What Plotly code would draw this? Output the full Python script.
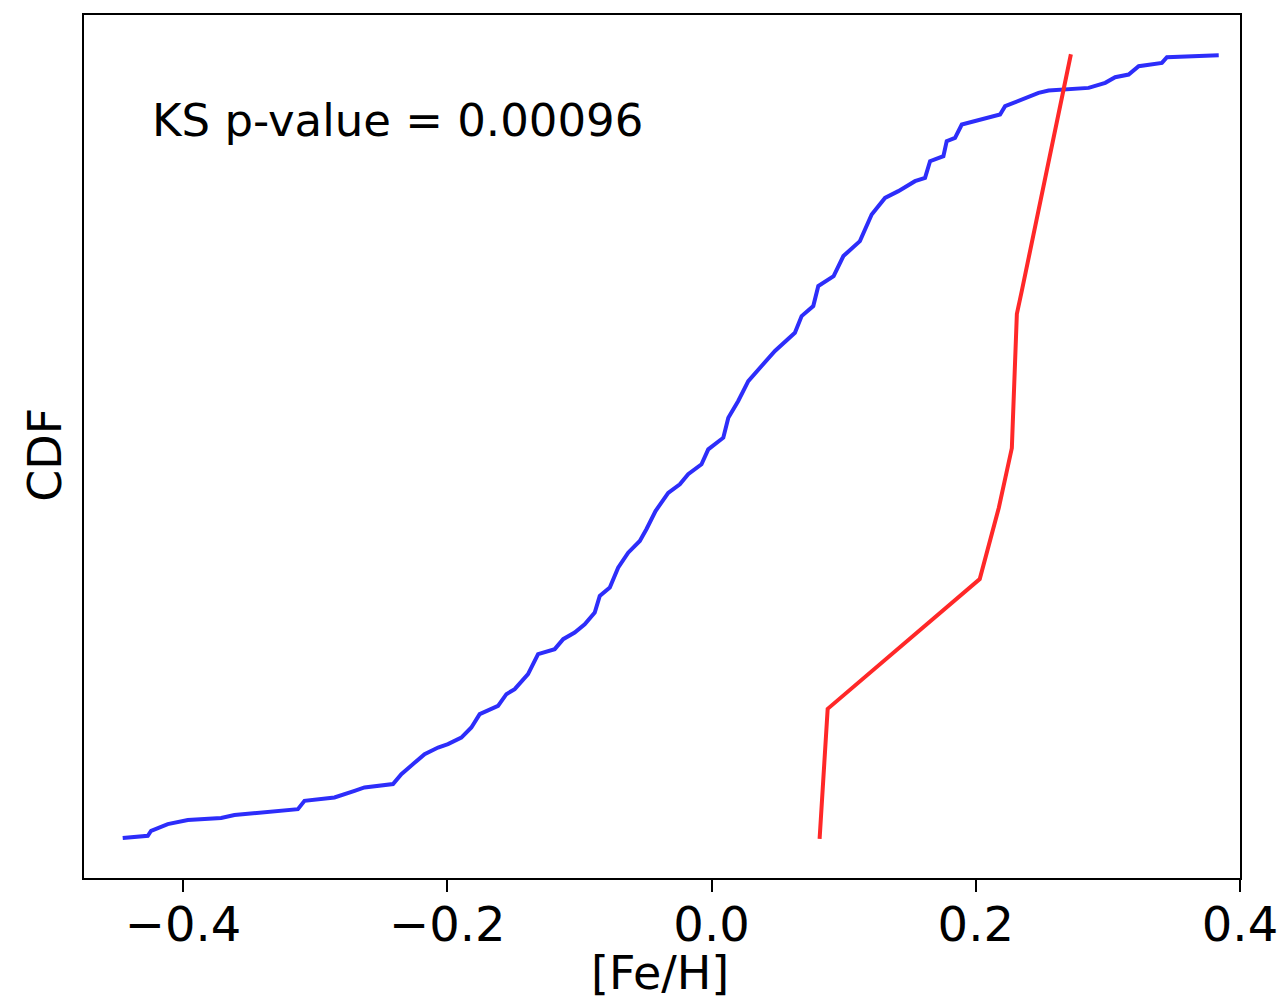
import plotly.graph_objects as go

# Blue sample CDF (sorted [Fe/H] vs cumulative fraction)
blue_feh = [-0.4457, -0.4267, -0.4242, -0.4116, -0.3964, -0.3712, -0.3611, -0.3358, -0.3131, -0.3081,
            -0.2854, -0.2702, -0.2627, -0.2411, -0.2348, -0.2248, -0.2172, -0.2070, -0.1995, -0.1894,
            -0.1818, -0.1755, -0.1692, -0.1616, -0.1553, -0.1490, -0.1389, -0.1313, -0.1187, -0.1123,
            -0.1036, -0.0960, -0.0884, -0.0846, -0.0770, -0.0707, -0.0631, -0.0543, -0.0492, -0.0424,
            -0.0328, -0.0240, -0.0177, -0.0076, -0.0025, 0.0089, 0.0127, 0.0202, 0.0278, 0.0379,
            0.0480, 0.0631, 0.0682, 0.0770, 0.0808, 0.0924, 0.0998, 0.1123, 0.1212, 0.1313,
            0.1414, 0.1540, 0.1616, 0.1654, 0.1755, 0.1780, 0.1843, 0.1894, 0.2045, 0.2184,
            0.2222, 0.2323, 0.2475, 0.2551, 0.2854, 0.2980, 0.3055, 0.3157, 0.3233, 0.3409,
            0.3447, 0.3839]
blue_cdf = [0.0009, 0.0038, 0.0102, 0.0187, 0.0238, 0.0264, 0.0302, 0.0348, 0.0378, 0.0484,
            0.0526, 0.0611, 0.0654, 0.0697, 0.0824, 0.0968, 0.1079, 0.1163, 0.1206, 0.1290,
            0.1418, 0.1589, 0.1639, 0.1694, 0.1843, 0.1907, 0.2098, 0.2353, 0.2417, 0.2544,
            0.2628, 0.2735, 0.2883, 0.3096, 0.3201, 0.3456, 0.3647, 0.3796, 0.3949, 0.4178,
            0.4408, 0.4518, 0.4646, 0.4773, 0.4964, 0.5112, 0.5367, 0.5580, 0.5834, 0.6025,
            0.6217, 0.6450, 0.6662, 0.6790, 0.7045, 0.7172, 0.7427, 0.7618, 0.7958, 0.8169,
            0.8255, 0.8382, 0.8424, 0.8637, 0.8701, 0.8892, 0.8934, 0.9104, 0.9168, 0.9232,
            0.9338, 0.9401, 0.9507, 0.9538, 0.9571, 0.9635, 0.9707, 0.9741, 0.9847, 0.9889,
            0.9962, 0.9987]

# Red sample CDF
red_feh = [0.0818, 0.0879, 0.2030, 0.2174, 0.2273, 0.2311, 0.2348, 0.2720]
red_cdf = [0.0, 0.1656, 0.3310, 0.4217, 0.4980, 0.6690, 0.6980, 1.0]

x_ticks = [-0.4, -0.2, 0.0, 0.2, 0.4]
x_tick_labels = ["\u22120.4", "\u22120.2", "0.0", "0.2", "0.4"]

annotation_text = "KS p-value = 0.00096"
x_title = "[Fe/H]"
y_title = "CDF"

FONT = "DejaVu Sans"

fig = go.Figure()
fig.add_trace(go.Scatter(x=blue_feh, y=blue_cdf, mode="lines",
                         line=dict(color="rgb(45,45,250)", width=4), showlegend=False))
fig.add_trace(go.Scatter(x=red_feh, y=red_cdf, mode="lines",
                         line=dict(color="rgb(255,40,40)", width=4), showlegend=False))

fig.update_layout(
    width=1280, height=1002,
    margin=dict(l=84, r=40, t=15, b=124, autoexpand=False),
    paper_bgcolor="white", plot_bgcolor="white",
    font=dict(family=FONT, color="black"),
    xaxis=dict(range=[-0.475, 0.4], tickvals=x_ticks, ticktext=x_tick_labels,
               ticks="outside", ticklen=12, tickwidth=1.5, tickcolor="black",
               ticklabelstandoff=-8,
               showline=True, linecolor="black", linewidth=1.5, mirror=True,
               showgrid=False, zeroline=False, automargin=False,
               tickfont=dict(size=48, family=FONT, color="black")),
    yaxis=dict(range=[-0.05, 1.05], showticklabels=False, ticks="",
               showline=True, linecolor="black", linewidth=1.5, mirror=True,
               showgrid=False, zeroline=False, automargin=False),
    annotations=[
        dict(text=annotation_text, x=-0.425, y=0.915, xref="x", yref="y",
             xanchor="left", yanchor="middle", showarrow=False,
             font=dict(size=45, family=FONT, color="black")),
        dict(text=x_title, x=0.498, y=-0.11, xref="paper", yref="paper",
             xanchor="center", yanchor="middle", showarrow=False,
             font=dict(size=46, family=FONT, color="black")),
        dict(text=y_title, x=-0.034, y=0.49, xref="paper", yref="paper",
             xanchor="center", yanchor="middle", showarrow=False, textangle=-90,
             font=dict(size=46, family=FONT, color="black")),
    ],
)

fig.write_html("out.html", config={"displayModeBar": False},
               post_script="document.body.style.margin='0';document.body.style.overflow='hidden';")
